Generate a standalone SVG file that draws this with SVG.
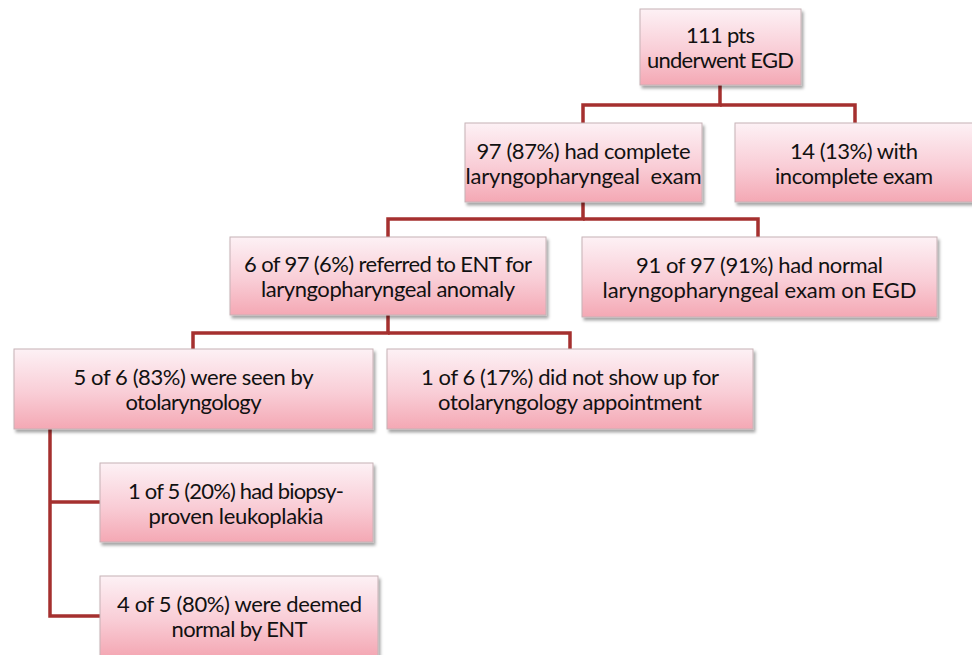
<svg xmlns="http://www.w3.org/2000/svg" width="972" height="655" viewBox="0 0 972 655">
<defs>
<linearGradient id="g" x1="0" y1="0" x2="0" y2="1">
<stop offset="0" stop-color="#fdf1f5"/>
<stop offset="0.55" stop-color="#f9cdd6"/>
<stop offset="1" stop-color="#f4a8b4"/>
</linearGradient>
<filter id="sh" x="-5%" y="-5%" width="115%" height="125%">
<feDropShadow dx="2" dy="3" stdDeviation="1.5" flood-color="#000" flood-opacity="0.35"/>
</filter>
</defs>
<style>
.box{fill:url(#g);stroke:#c6b2b6;stroke-width:1;filter:url(#sh)}
.t{font-family:Lato,"Open Sans",sans-serif;font-size:22px;fill:#111;text-anchor:middle}
.c{fill:none;stroke:#a5302f;stroke-width:3.5}
</style>
<rect width="972" height="655" fill="#fff"/>
<g id="connectors">
<polyline class="c" points="720,85 720,105 583,105 583,123"/>
<polyline class="c" points="720,105 855,105 855,123"/>
<polyline class="c" points="583,202 583,219 388,219 388,237"/>
<polyline class="c" points="583,219 758,219 758,237"/>
<polyline class="c" points="388,315 388,333 193,333 193,349"/>
<polyline class="c" points="388,333 570,333 570,349"/>
<polyline class="c" points="50,429 50,616 100,616"/>
<polyline class="c" points="50,502 100,502"/>
</g>
<g id="n1"><rect class="box" x="640" y="9" width="161" height="76"/><text class="t" x="720.5" y="43" textLength="69">111 pts</text><text class="t" x="720.5" y="68" textLength="147">underwent EGD</text></g>
<g id="n2"><rect class="box" x="465" y="123" width="237" height="79"/><text class="t" x="583.5" y="158.5" textLength="214">97 (87%) had complete</text><text class="t" x="583.5" y="183.5" textLength="236" xml:space="preserve">laryngopharyngeal  exam</text></g>
<g id="n3"><rect class="box" x="735" y="123" width="240" height="79"/><text class="t" x="854" y="158.5" textLength="128">14 (13%) with</text><text class="t" x="854" y="183.5" textLength="158">incomplete exam</text></g>
<g id="n4"><rect class="box" x="230" y="237" width="316" height="78"/><text class="t" x="388" y="271.5" textLength="288">6 of 97 (6%) referred to ENT for</text><text class="t" x="388" y="296.5" textLength="254">laryngopharyngeal anomaly</text></g>
<g id="n5"><rect class="box" x="582" y="237" width="355" height="80"/><text class="t" x="759.5" y="272.5" textLength="247">91 of 97 (91%) had normal</text><text class="t" x="759.5" y="297.5" textLength="314">laryngopharyngeal exam on EGD</text></g>
<g id="n6"><rect class="box" x="14" y="349" width="359" height="80"/><text class="t" x="193.5" y="384.5" textLength="240">5 of 6 (83%) were seen by</text><text class="t" x="193.5" y="409.5" textLength="136">otolaryngology</text></g>
<g id="n7"><rect class="box" x="387" y="349" width="366" height="80"/><text class="t" x="570" y="384.5" textLength="298">1 of 6 (17%) did not show up for</text><text class="t" x="570" y="409.5" textLength="264">otolaryngology appointment</text></g>
<g id="n8"><rect class="box" x="100" y="463" width="273" height="79"/><text class="t" x="236" y="498.5" textLength="216">1 of 5 (20%) had biopsy-</text><text class="t" x="236" y="523.5" textLength="175">proven leukoplakia</text></g>
<g id="n9"><rect class="box" x="100" y="576" width="278" height="80"/><text class="t" x="239.5" y="611.5" textLength="245">4 of 5 (80%) were deemed</text><text class="t" x="239.5" y="636.5" textLength="136">normal by ENT</text></g>
</svg>
